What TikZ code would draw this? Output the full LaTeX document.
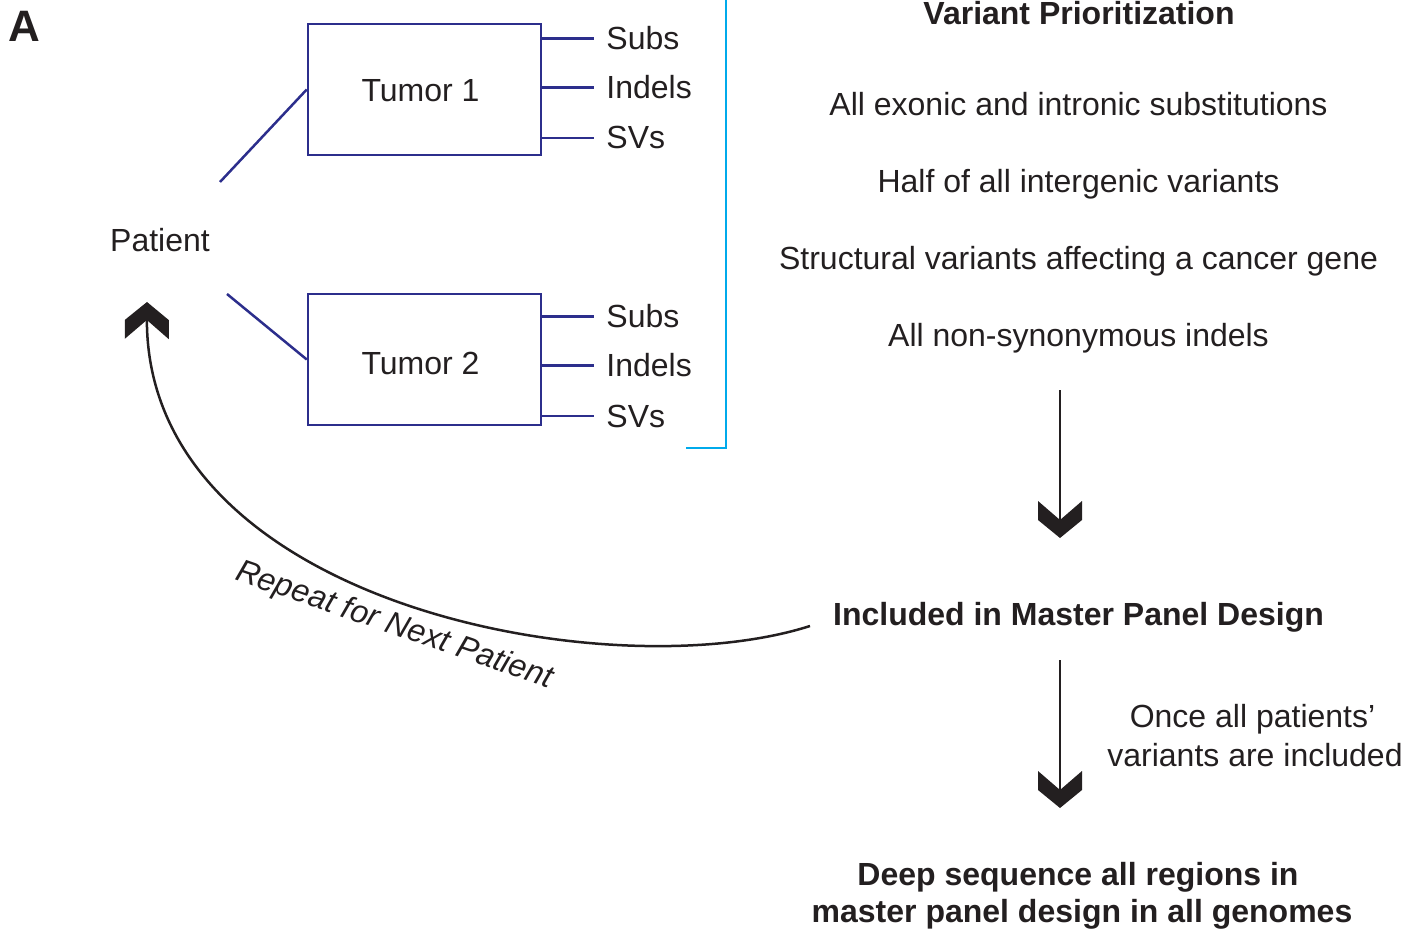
\documentclass[tikz,border=0pt]{standalone}
\usepackage{fontspec}
\setmainfont{Liberation Sans}
\usetikzlibrary{arrows.meta}
\definecolor{navy}{RGB}{44,46,140}
\definecolor{skyline}{RGB}{0,170,235}
\definecolor{ink}{RGB}{35,31,32}

% thick chevron head with flat wing ends
\pgfdeclarearrow{
  name=Chevron,
  setup code={
    \pgfarrowssettipend{0pt}
    \pgfarrowssetlineend{-8pt}
    \pgfarrowssetvisualbackend{-18.5pt}
    \pgfarrowssetbackend{-18.5pt}
    \pgfarrowshullpoint{0pt}{0pt}
    \pgfarrowsupperhullpoint{-18.5pt}{11pt}
  },
  drawing code={
    \pgfpathmoveto{\pgfpoint{0pt}{0pt}}
    \pgfpathlineto{\pgfpoint{-9pt}{11pt}}
    \pgfpathlineto{\pgfpoint{-18.5pt}{11pt}}
    \pgfpathlineto{\pgfpoint{-9pt}{0pt}}
    \pgfpathlineto{\pgfpoint{-18.5pt}{-11pt}}
    \pgfpathlineto{\pgfpoint{-9pt}{-11pt}}
    \pgfpathclose
    \pgfusepathqfill
  }
}

\begin{document}
\begin{tikzpicture}[x=0.5pt,y=-0.5pt,
  txt/.style={text=ink, font=\fontsize{16}{19}\selectfont, inner sep=0pt},
  boldtxt/.style={txt, font=\fontsize{16}{19}\selectfont\bfseries},
  tumor/.style={draw=navy, line width=1.25pt, minimum width=116.5pt, minimum height=65.5pt},
  branch/.style={navy, line width=1.25pt},
  flow/.style={ink, line width=1.25pt, -Chevron}]
  \useasboundingbox (0,0) rectangle (1423,930);

  % Panel letter
  \node[txt, font=\fontsize{22}{26}\selectfont\bfseries, anchor=base west] (panel) at (8,42) {A};

  % Patient and tumours
  \node[txt, anchor=base] (patient) at (160,252) {Patient};
  \node[tumor] (t1) at (424.5,89.5) {};
  \node[tumor] (t2) at (424.5,359.5) {};
  \node[txt, anchor=base] (t1lbl) at (420.5,102) {Tumor 1};
  \node[txt, anchor=base] (t2lbl) at (420.5,374) {Tumor 2};
  \coordinate (p1) at (220,182);
  \coordinate (p2) at (227,294);
  \draw[branch] (p1) -- (t1.west);
  \draw[branch] (p2) -- (t2.west);

  % Variant classes per tumour
  \node[txt, anchor=base west] (sub1) at (606,50) {Subs};
  \node[txt, anchor=base west] (ind1) at (606,99) {Indels};
  \node[txt, anchor=base west] (sv1) at (606,149) {SVs};
  \node[txt, anchor=base west] (sub2) at (606,328) {Subs};
  \node[txt, anchor=base west] (ind2) at (606,377) {Indels};
  \node[txt, anchor=base west] (sv2) at (606,427) {SVs};
  \foreach \v/\t in {sub1/t1, ind1/t1, sv1/t1, sub2/t2, ind2/t2, sv2/t2}
    \draw[branch] (\v.west -| \t.east) -- ([xshift=-6pt]\v.west);

  % Bracket
  \draw[skyline, line width=1.25pt] (726,-2) -- (726,448) -- (686,448);

  % Prioritization criteria
  \node[boldtxt, anchor=base] (prio) at (1079,25) {Variant Prioritization};
  \node[txt, anchor=base] (crit1) at (1078.5,116) {All exonic and intronic substitutions};
  \node[txt, anchor=base] (crit2) at (1078.5,193) {Half of all intergenic variants};
  \node[txt, anchor=base] (crit3) at (1078.5,270) {Structural variants affecting a cancer gene};
  \node[txt, anchor=base] (crit4) at (1078.5,347) {All non-synonymous indels};

  % Panel design flow
  \node[boldtxt, anchor=base] (master) at (1078.5,625) {Included in Master Panel Design};
  \node[txt, anchor=base] (once1) at (1252.5,727) {Once all patients’};
  \node[txt, anchor=base] (once2) at (1255,766) {variants are included};
  \node[boldtxt, anchor=base] (deep1) at (1078,885) {Deep sequence all regions in};
  \node[boldtxt, anchor=base] (deep2) at (1082,922) {master panel design in all genomes};
  \coordinate (a1) at (1060,390);
  \coordinate (b1) at (1060,538);
  \coordinate (a2) at (1060,660);
  \coordinate (b2) at (1060,808);
  \draw[flow] (a1) -- (b1);
  \draw[flow] (a2) -- (b2);

  % Loop back to the next patient
  \coordinate (loopstart) at (810,626);
  \coordinate (looptip) at (147,302);
  \draw[flow] (loopstart) .. controls (610,690) and (145,605) .. (looptip);
  \node[txt, font=\fontsize{16}{19}\selectfont\itshape, rotate=-19] (repeat) at (394,626) {Repeat for Next Patient};
\end{tikzpicture}
\end{document}
